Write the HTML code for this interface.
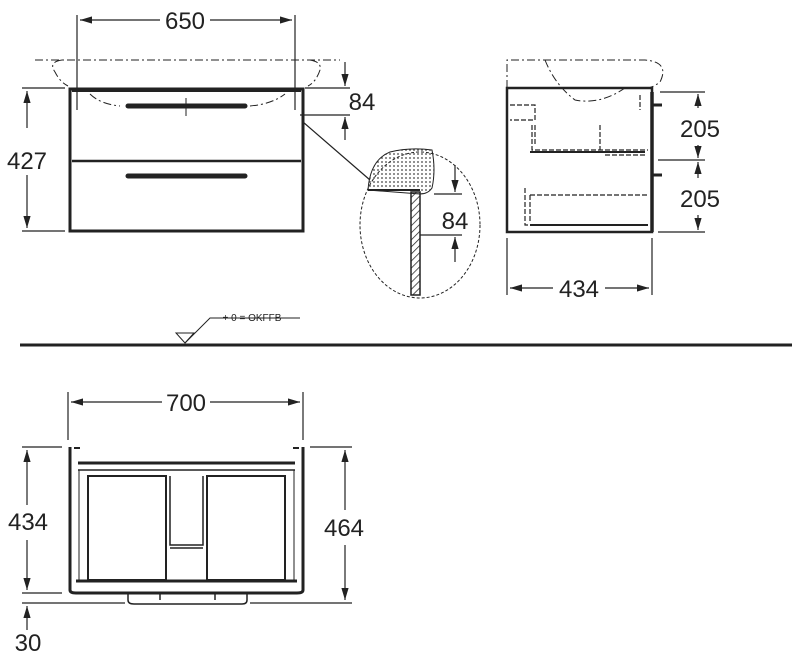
<!DOCTYPE html>
<html><head><meta charset="utf-8"><style>
body{margin:0;background:#fff}
svg{display:block;font-family:"Liberation Sans",sans-serif}
</style></head><body>
<svg width="800" height="663" viewBox="0 0 800 663" xmlns="http://www.w3.org/2000/svg">
<defs>
<marker id="a" markerWidth="10" markerHeight="6" refX="10" refY="3" orient="auto-start-reverse"><path d="M0,0 L10,3 L0,6 z" fill="#222"/></marker>
<pattern id="h" width="5" height="5" patternUnits="userSpaceOnUse" patternTransform="rotate(45)"><line x1="0" y1="0" x2="0" y2="5" stroke="#222" stroke-width="1.5"/></pattern>
<pattern id="d" width="4" height="4" patternUnits="userSpaceOnUse"><circle cx="2" cy="2" r="0.9" fill="#444"/></pattern>
</defs>
<g stroke="#222" fill="none" stroke-width="1.2">
<!-- front view -->
<line x1="77" y1="15" x2="77" y2="110"/><line x1="295" y1="15" x2="295" y2="110"/>
<line x1="80" y1="20" x2="160" y2="20" marker-start="url(#a)"/><line x1="210" y1="20" x2="292" y2="20" marker-end="url(#a)"/>
<path d="M35,60 H340 M62,60 Q48,62 55,72 Q60,82 68,86 M310,60 Q322,62 320,70 Q316,82 308,86 M90,94 Q100,104 120,106 M250,106 Q272,104 285,94" stroke-dasharray="8,3,2,3" stroke-width="1"/>
<rect x="70" y="89" width="233" height="142" stroke-width="3"/>
<line x1="72" y1="90" x2="301" y2="90" stroke-width="4"/>
<line x1="72" y1="161" x2="301" y2="161" stroke-width="2.5"/>
<line x1="128" y1="106" x2="245" y2="106" stroke-width="5" stroke-linecap="round"/>
<line x1="128" y1="176" x2="245" y2="176" stroke-width="5" stroke-linecap="round"/>
<line x1="186" y1="98" x2="186" y2="116" stroke-width="1"/>
<line x1="22" y1="88" x2="65" y2="88"/><line x1="22" y1="231" x2="65" y2="231"/>
<line x1="27" y1="128" x2="27" y2="91" marker-end="url(#a)"/><line x1="27" y1="175" x2="27" y2="228" marker-end="url(#a)"/>
<line x1="305" y1="88" x2="350" y2="88"/><line x1="300" y1="115" x2="350" y2="115"/>
<line x1="345" y1="62" x2="345" y2="86" marker-end="url(#a)"/><line x1="345" y1="140" x2="345" y2="117" marker-end="url(#a)"/>
<line x1="303" y1="122" x2="370" y2="180"/>
<!-- detail circle -->
<ellipse cx="420" cy="225" rx="60" ry="73" stroke-dasharray="3,2" stroke-width="1"/>
<path d="M368,190 Q370,160 390,152 Q410,147 432,150 Q436,170 432,188 Q428,194 420,194 Z" fill="url(#d)" stroke-width="1"/>
<line x1="368" y1="190" x2="420" y2="190" stroke-width="2"/>
<rect x="411" y="192" width="9" height="103" fill="url(#h)" stroke-width="1.5"/>
<line x1="434" y1="194" x2="462" y2="194"/><line x1="420" y1="235" x2="462" y2="235"/>
<line x1="455" y1="165" x2="455" y2="192" marker-end="url(#a)"/><line x1="455" y1="262" x2="455" y2="237" marker-end="url(#a)"/>
<!-- side view -->
<path d="M507,88 V60 H645 Q670,62 660,82 Q650,90 640,88 M545,60 Q555,85 575,100 Q600,105 625,88" stroke-dasharray="8,3,2,3" stroke-width="1"/>
<rect x="507" y="88" width="145" height="144" stroke-width="2.5"/>
<line x1="652" y1="92" x2="652" y2="232" stroke-width="3.5"/>
<path d="M510,105 H535 V120 H510 M532,125 V150 H648 M535,125 V145 M600,125 V150 M605,155 H645 M525,188 V225 H648 M530,195 V222 M530,195 H648 M640,95 V110" stroke-dasharray="5,2" stroke-width="1.2"/>
<path d="M530,152 H645 M530,225 H648" stroke-width="2"/>
<path d="M652,105 H662 M652,175 H662" stroke-width="3"/>
<line x1="660" y1="92" x2="705" y2="92"/><line x1="658" y1="160" x2="705" y2="160"/><line x1="658" y1="232" x2="705" y2="232"/>
<line x1="698" y1="108" x2="698" y2="94" marker-end="url(#a)"/><line x1="698" y1="145" x2="698" y2="158" marker-end="url(#a)"/>
<line x1="698" y1="178" x2="698" y2="162" marker-end="url(#a)"/><line x1="698" y1="215" x2="698" y2="230" marker-end="url(#a)"/>
<line x1="507" y1="238" x2="507" y2="295"/><line x1="652" y1="238" x2="652" y2="295"/>
<line x1="553" y1="288" x2="510" y2="288" marker-end="url(#a)"/><line x1="605" y1="288" x2="649" y2="288" marker-end="url(#a)"/>
<!-- floor -->
<line x1="20" y1="345" x2="792" y2="345" stroke-width="3"/>
<path d="M176,333 H194 L185,343 Z" stroke-width="1"/>
<path d="M185,343 L210,318 H300" stroke-width="1"/>
<!-- bottom view -->
<line x1="68" y1="392" x2="68" y2="440"/><line x1="303" y1="392" x2="303" y2="440"/>
<line x1="162" y1="402" x2="71" y2="402" marker-end="url(#a)"/><line x1="210" y1="402" x2="300" y2="402" marker-end="url(#a)"/>
<path d="M70,447 V590 Q70,593 76,593 H297 Q303,593 303,590 V447" stroke-width="3"/>
<path d="M74,448 H80 M293,448 H299" stroke-width="2"/>
<line x1="78" y1="463" x2="295" y2="463" stroke-width="3"/>
<line x1="78" y1="470" x2="295" y2="470" stroke-width="1.5"/>
<line x1="79" y1="470" x2="79" y2="581" stroke-width="1"/><line x1="294" y1="470" x2="294" y2="581" stroke-width="1"/>
<line x1="76" y1="581" x2="297" y2="581" stroke-width="3"/>
<rect x="88" y="476" width="78" height="104" stroke-width="2"/>
<rect x="207" y="476" width="78" height="104" stroke-width="2"/>
<path d="M170,476 V545 H203 V476 M170,548 H203" stroke-width="1.5"/>
<path d="M128,593 V600 Q128,604 134,604 H242 Q247,604 247,600 V593 M160,593 V600 M215,593 V600" stroke-width="1.5"/>
<line x1="22" y1="447" x2="62" y2="447"/><line x1="22" y1="593" x2="62" y2="593"/>
<line x1="27" y1="505" x2="27" y2="450" marker-end="url(#a)"/><line x1="27" y1="540" x2="27" y2="590" marker-end="url(#a)"/>
<line x1="310" y1="447" x2="352" y2="447"/><line x1="250" y1="603" x2="352" y2="603"/><line x1="22" y1="603" x2="125" y2="603"/>
<line x1="345" y1="510" x2="345" y2="450" marker-end="url(#a)"/><line x1="345" y1="545" x2="345" y2="600" marker-end="url(#a)"/>
<line x1="27" y1="630" x2="27" y2="606" marker-end="url(#a)"/>
</g>
<g fill="#222" font-size="24" text-anchor="middle">
<text x="185" y="29">650</text>
<text x="27" y="169">427</text>
<text x="362" y="110">84</text>
<text x="455" y="229">84</text>
<text x="700" y="137">205</text>
<text x="700" y="207">205</text>
<text x="579" y="297">434</text>
<text x="186" y="411">700</text>
<text x="28" y="530">434</text>
<text x="344" y="536">464</text>
<text x="28" y="651">30</text>
<text x="252" y="321" font-size="10">+ 0 = OKFFB</text>
</g>
</svg>
</body></html>
